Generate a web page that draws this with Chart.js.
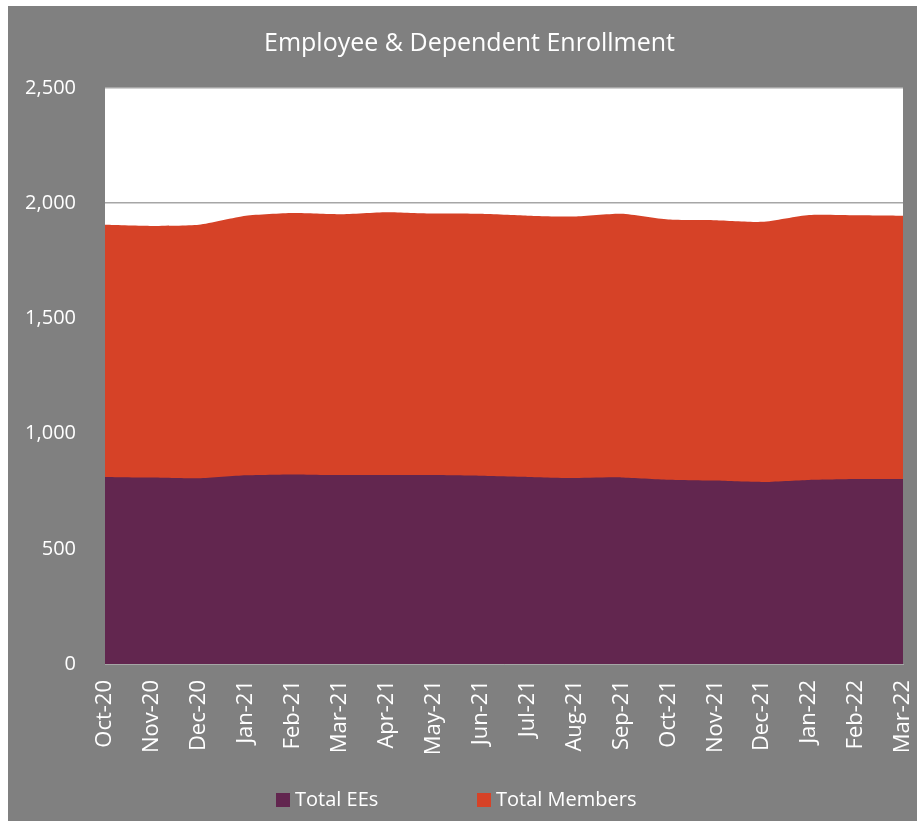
<!DOCTYPE html>
<html>
<head>
<meta charset="utf-8">
<script src="https://cdn.jsdelivr.net/npm/chart.js@4.4.0/dist/chart.umd.min.js"></script>
<style>
  html, body { margin: 0; padding: 0; background: #ffffff; }
  #card { position: absolute; left: 8px; top: 6px; width: 909px; height: 815px; background: #808080; }
  #legend { position: absolute; left: 0; top: 780px; width: 100%; height: 26px; font: 20px "Open Sans", sans-serif; color: #ffffff; }
  .item { position: absolute; top: 0; line-height: 26px; white-space: nowrap; }
  .box { display: inline-block; width: 14px; height: 14px; margin-right: 5px; vertical-align: -1px; }
</style>
</head>
<body>
<div id="card">
  <canvas id="enrollment-chart" width="909" height="815"></canvas>
  <div id="legend"></div>
</div>
<script>
// Données
var mois = ['Oct-20', 'Nov-20', 'Dec-20', 'Jan-21', 'Feb-21', 'Mar-21', 'Apr-21', 'May-21', 'Jun-21',
  'Jul-21', 'Aug-21', 'Sep-21', 'Oct-21', 'Nov-21', 'Dec-21', 'Jan-22', 'Feb-22', 'Mar-22'];
var totalEEs = [812, 809, 806, 819, 823, 820, 820, 820, 817, 812, 807, 810, 800, 796, 790, 799, 803, 803];
var totalMembers = [1906, 1901, 1906, 1945, 1957, 1952, 1961, 1955, 1954, 1946, 1942, 1954, 1929, 1926, 1919, 1949, 1948, 1946];
var yTicks = [0, 500, 1000, 1500, 2000, 2500];

var couleurs = { ees: '#62264f', members: '#d64227' };
var police = '"Open Sans", sans-serif';

var ctx = document.getElementById('enrollment-chart').getContext('2d');
var chart = new Chart(ctx, {
  type: 'line',
  data: {
    labels: mois,
    datasets: [{
      label: 'Total EEs',
      data: totalEEs,
      backgroundColor: couleurs.ees,
      borderColor: couleurs.ees,
      borderWidth: 0,
      fill: 'origin',
      pointRadius: 0,
      tension: 0.2
    }, {
      label: 'Total Members',
      data: totalMembers,
      backgroundColor: couleurs.members,
      borderColor: couleurs.members,
      borderWidth: 0,
      fill: 'origin',
      pointRadius: 0,
      tension: 0.2
    }]
  },
  options: {
    responsive: false,
    animation: false,
    layout: { padding: { left: 14, right: 0, top: 0, bottom: 0 } },
    plugins: {
      legend: { display: false },
      tooltip: { enabled: false },
      title: {
        display: true,
        text: 'Employee & Dependent Enrollment',
        color: '#ffffff',
        font: { family: police, size: 25, weight: 'normal' },
        padding: { top: 23, bottom: 29 }
      }
    },
    scales: {
      x: {
        offset: false,
        grid: { display: false, drawTicks: false },
        border: { display: true, color: '#a6a6a6', width: 1 },
        ticks: {
          color: '#ffffff',
          font: { family: police, size: 22 },
          minRotation: 90,
          maxRotation: 90,
          padding: 16,
          autoSkip: false
        },
        afterFit: function (s) { s.height = 157; s.paddingLeft = 0; s.paddingRight = 14; }
      },
      y: {
        min: 0,
        max: 2500,
        afterBuildTicks: function (s) { s.ticks = yTicks.map(function (v) { return { value: v }; }); },
        grid: { color: '#a6a6a6', lineWidth: 1.5, drawTicks: false },
        border: { display: false },
        ticks: {
          color: '#ffffff',
          font: { family: police, size: 20 },
          padding: 29,
          callback: function (v) { return v.toLocaleString('en-US'); }
        },
        afterFit: function (s) { s.width = 83; }
      }
    }
  },
  plugins: [{
    id: 'fondBlanc',
    beforeDraw: function (c) {
      var a = c.chartArea;
      c.ctx.save();
      c.ctx.fillStyle = '#ffffff';
      c.ctx.fillRect(a.left, a.top, a.right - a.left, a.bottom - a.top);
      c.ctx.restore();
    }
  }]
});

// Légende en HTML
var legende = document.getElementById('legend');
var positions = [268, 469];
chart.data.datasets.forEach(function (ds, i) {
  var el = document.createElement('div');
  el.className = 'item';
  el.style.left = positions[i] + 'px';
  el.innerHTML = '<span class="box" style="background:' + ds.backgroundColor + '"></span>' + ds.label;
  legende.appendChild(el);
});
</script>
</body>
</html>
